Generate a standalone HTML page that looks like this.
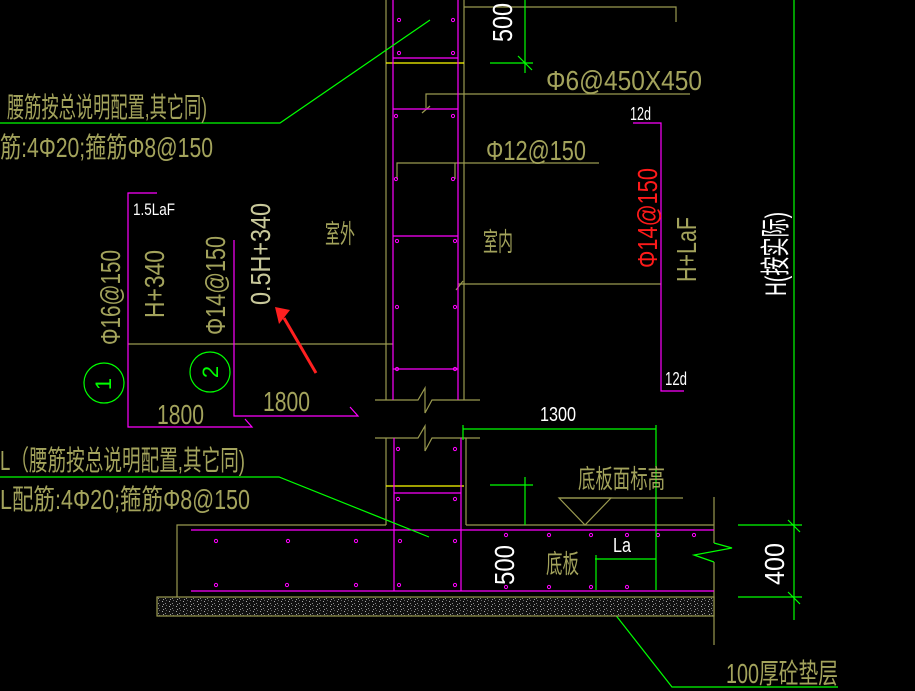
<!DOCTYPE html>
<html><head><meta charset="utf-8"><style>
html,body{margin:0;padding:0;background:#000;}
svg{display:block}
text{font-family:"Liberation Sans","Noto Sans CJK SC",sans-serif;}
</style></head><body>
<svg width="915" height="691" viewBox="0 0 915 691" xmlns="http://www.w3.org/2000/svg">
<defs>
<pattern id="grav" width="7" height="5" patternUnits="userSpaceOnUse">
<rect width="7" height="5" fill="#111"/>
<rect x="1" y="1" width="1" height="1" fill="#aaa"/>
<rect x="4" y="3" width="1" height="1" fill="#888"/>
<rect x="5" y="0" width="1" height="1" fill="#666"/>
<rect x="2" y="4" width="1" height="1" fill="#999"/>
</pattern>
</defs>
<rect width="915" height="691" fill="#000"/>
<g fill="none" stroke-width="1.2">
<g stroke="#9a9a50">
<line x1="386" y1="0" x2="386" y2="400"/>
<line x1="464" y1="0" x2="464" y2="400"/>
<polyline points="464,7 676,7 676,22"/>
<polyline points="426,108 426,94 690,94"/>
<line x1="422" y1="113" x2="430" y2="106"/>
<polyline points="397,179 397,163 599,163"/>
<line x1="455" y1="163" x2="455" y2="179"/>
<line x1="458" y1="284" x2="661" y2="284"/>
<line x1="456" y1="290" x2="463" y2="281"/>
<line x1="128" y1="344" x2="393" y2="344"/>
<polyline points="375,400 418,400 425,388 425,413 432,400 480,400"/>
<polyline points="375,438 418,438 425,426 425,451 432,438 480,438"/>
<line x1="386" y1="438" x2="386" y2="525"/>
<line x1="466" y1="438" x2="466" y2="525"/>
<polyline points="386,525 177,525 177,597"/>
<line x1="466" y1="525" x2="714" y2="525"/>
<line x1="714" y1="497" x2="714" y2="543"/>
<line x1="714" y1="562" x2="714" y2="645"/>
<polyline points="559,498 683,498"/>
<polygon points="559,498 611,498 585,525"/>
</g>
<line x1="386" y1="63" x2="464" y2="63" stroke="#ffff00"/>
<line x1="386" y1="486" x2="464" y2="486" stroke="#ffff00"/>
<g stroke="#ff00ff">
<line x1="393" y1="0" x2="393" y2="400"/>
<line x1="458" y1="0" x2="458" y2="400"/>
<line x1="393" y1="58" x2="458" y2="58"/>
<line x1="393" y1="109" x2="458" y2="109"/>
<line x1="393" y1="236" x2="458" y2="236"/>
<line x1="393" y1="369" x2="458" y2="369"/>
<line x1="394" y1="438" x2="394" y2="591"/>
<line x1="461" y1="438" x2="461" y2="591"/>
<line x1="394" y1="493" x2="461" y2="493"/>
<line x1="191" y1="530" x2="714" y2="530"/>
<line x1="191" y1="591" x2="714" y2="591"/>
<polyline points="157,193 128,193 128,427 252,427 245,419"/>
<polyline points="234,240 234,416 358,416 350,407"/>
<polyline points="633,123 661,123 661,391 684,391"/>
</g>
<g stroke="#ff00ff" stroke-width="1">
<circle cx="399" cy="20" r="1.6"/><circle cx="453" cy="20" r="1.6"/>
<circle cx="399" cy="53" r="1.6"/><circle cx="453" cy="53" r="1.6"/>
<circle cx="396" cy="116" r="1.6"/><circle cx="453" cy="116" r="1.6"/>
<circle cx="396" cy="179" r="1.6"/><circle cx="453" cy="179" r="1.6"/>
<circle cx="397" cy="241" r="1.6"/><circle cx="455" cy="241" r="1.6"/>
<circle cx="397" cy="307" r="1.6"/><circle cx="455" cy="307" r="1.6"/>
<circle cx="397" cy="369" r="1.6"/><circle cx="455" cy="369" r="1.6"/>
<circle cx="398" cy="449" r="1.6"/><circle cx="455" cy="449" r="1.6"/>
<circle cx="398" cy="499" r="1.6"/><circle cx="455" cy="499" r="1.6"/>
<circle cx="216" cy="541" r="1.6"/><circle cx="288" cy="541" r="1.6"/><circle cx="356" cy="541" r="1.6"/><circle cx="400" cy="541" r="1.6"/><circle cx="455" cy="541" r="1.6"/>
<circle cx="506" cy="535" r="1.6"/><circle cx="549" cy="535" r="1.6"/><circle cx="591" cy="535" r="1.6"/><circle cx="627" cy="535" r="1.6"/><circle cx="658" cy="535" r="1.6"/><circle cx="694" cy="535" r="1.6"/>
<circle cx="216" cy="585" r="1.6"/><circle cx="287" cy="585" r="1.6"/><circle cx="356" cy="585" r="1.6"/><circle cx="399" cy="585" r="1.6"/><circle cx="455" cy="585" r="1.6"/>
<circle cx="506" cy="587" r="1.6"/><circle cx="549" cy="587" r="1.6"/><circle cx="591" cy="587" r="1.6"/><circle cx="627" cy="587" r="1.6"/>
</g>
<g stroke="#00ff00">
<line x1="794" y1="0" x2="794" y2="620"/>
<polyline points="0,123 280,123 430,20"/>
<polyline points="0,477 279,477 429,537"/>
<polyline points="607,604 672,687 838,687"/>
<line x1="525" y1="0" x2="525" y2="73"/>
<line x1="490" y1="63" x2="533" y2="63"/>
<line x1="518" y1="56" x2="532" y2="70"/>
<line x1="463" y1="429" x2="656" y2="429"/>
<line x1="463" y1="425" x2="463" y2="440"/>
<line x1="656" y1="425" x2="656" y2="590"/>
<line x1="525" y1="477" x2="525" y2="525"/>
<line x1="490" y1="485" x2="533" y2="485"/>
<line x1="596" y1="555" x2="596" y2="590"/>
<line x1="595" y1="559" x2="656" y2="559"/>
<polyline points="714,543 732,548 694,555 714,562"/>
<line x1="738" y1="525" x2="802" y2="525"/>
<line x1="738" y1="597" x2="802" y2="597"/>
<line x1="788" y1="520" x2="800" y2="532"/>
<line x1="788" y1="592" x2="800" y2="604"/>
<circle cx="104" cy="383" r="20"/>
<circle cx="210" cy="372" r="20"/>
</g>
<rect x="157" y="597" width="557" height="19" stroke="#9a9a50" fill="url(#grav)"/>
</g>
<line x1="316" y1="373" x2="284" y2="318" stroke="#ff2020" stroke-width="3"/>
<polygon points="275,307 290,310 279,324" fill="#ff2020"/>
<g fill="#a3a35c" font-size="28">
<text x="7" y="117" textLength="200" lengthAdjust="spacingAndGlyphs">腰筋按总说明配置,其它同)</text>
<text x="0" y="157" textLength="213" lengthAdjust="spacingAndGlyphs">筋:4Φ20;箍筋Φ8@150</text>
<text x="0" y="470" textLength="245" lengthAdjust="spacingAndGlyphs">L（腰筋按总说明配置,其它同)</text>
<text x="0" y="509" textLength="250" lengthAdjust="spacingAndGlyphs">L配筋:4Φ20;箍筋Φ8@150</text>
<text x="546" y="90" textLength="156" lengthAdjust="spacingAndGlyphs">Φ6@450X450</text>
<text x="486" y="160" textLength="100" lengthAdjust="spacingAndGlyphs">Φ12@150</text>
<text x="325" y="243" font-size="26" textLength="30" lengthAdjust="spacingAndGlyphs">室外</text>
<text x="483" y="251" font-size="26" textLength="30" lengthAdjust="spacingAndGlyphs">室内</text>
<text x="157" y="424" textLength="47" lengthAdjust="spacingAndGlyphs">1800</text>
<text x="263" y="411" textLength="47" lengthAdjust="spacingAndGlyphs">1800</text>
<text x="578" y="488" font-size="26" textLength="87" lengthAdjust="spacingAndGlyphs">底板面标高</text>
<text x="546" y="573" font-size="26" textLength="33" lengthAdjust="spacingAndGlyphs">底板</text>
<text x="726" y="683" textLength="112" lengthAdjust="spacingAndGlyphs">100厚砼垫层</text>
<text transform="translate(120,345) rotate(-90)" textLength="95" lengthAdjust="spacingAndGlyphs">Φ16@150</text>
<text transform="translate(164,318) rotate(-90)" textLength="68" lengthAdjust="spacingAndGlyphs">H+340</text>
<text transform="translate(225,335) rotate(-90)" textLength="99" lengthAdjust="spacingAndGlyphs">Φ14@150</text>
<text transform="translate(696,282) rotate(-90)" textLength="65" lengthAdjust="spacingAndGlyphs">H+LaF</text>
</g>
<text transform="translate(270,305) rotate(-90)" fill="#c8c89a" font-size="28" textLength="102" lengthAdjust="spacingAndGlyphs">0.5H+340</text>
<text transform="translate(657,268) rotate(-90)" fill="#ff1a1a" font-size="28" textLength="100" lengthAdjust="spacingAndGlyphs">Φ14@150</text>
<g fill="#ffffff">
<text x="133" y="215" font-size="17" textLength="42" lengthAdjust="spacingAndGlyphs">1.5LaF</text>
<text x="630" y="120" font-size="18" textLength="21" lengthAdjust="spacingAndGlyphs">12d</text>
<text x="665" y="385" font-size="18" textLength="22" lengthAdjust="spacingAndGlyphs">12d</text>
<text x="540" y="421" font-size="20" textLength="36" lengthAdjust="spacingAndGlyphs">1300</text>
<text x="613" y="552" font-size="20" textLength="18" lengthAdjust="spacingAndGlyphs">La</text>
<text transform="translate(512,42) rotate(-90)" font-size="28" textLength="39" lengthAdjust="spacingAndGlyphs">500</text>
<text transform="translate(514,585) rotate(-90)" font-size="28" textLength="40" lengthAdjust="spacingAndGlyphs">500</text>
<text transform="translate(784,585) rotate(-90)" font-size="28" textLength="42" lengthAdjust="spacingAndGlyphs">400</text>
<text transform="translate(786,296) rotate(-90)" font-size="30" textLength="84" lengthAdjust="spacingAndGlyphs">H(按实际)</text>
</g>
<g fill="#00ff00">
<text transform="translate(97,384) rotate(-90)" font-size="22" text-anchor="middle" x="0" y="14">1</text>
<text transform="translate(210,372) rotate(-90)" font-size="22" text-anchor="middle" x="0" y="8">2</text>
</g>
</svg>
</body></html>
